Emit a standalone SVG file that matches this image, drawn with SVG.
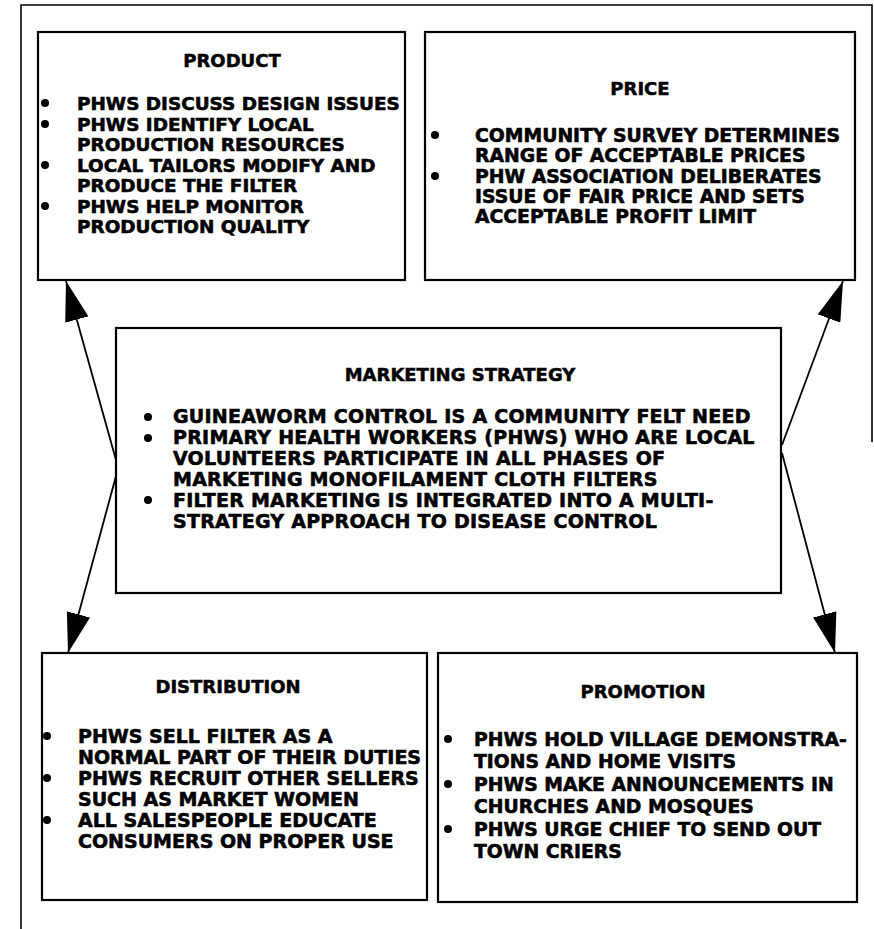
<svg xmlns="http://www.w3.org/2000/svg" width="874" height="929" viewBox="0 0 874 929">
<style>
.box{fill:#fff;stroke:#000;stroke-width:2.2}
.frame{fill:none;stroke:#000;stroke-width:1.6}
.t{font-family:"DejaVu Sans","Liberation Sans",sans-serif;font-weight:bold;font-size:19px;fill:#000;stroke:#000;stroke-width:0.6}
.m{letter-spacing:0.25px}
.h{font-family:"DejaVu Sans","Liberation Sans",sans-serif;font-weight:bold;font-size:18px;fill:#000;stroke:#000;stroke-width:0.5;text-anchor:middle}
.conn{stroke:#000;stroke-width:1.8;fill:none}
</style>
<defs>
<marker id="ah" markerUnits="userSpaceOnUse" markerWidth="42" markerHeight="24" refX="40" refY="12" orient="auto">
<path d="M0,0 L40,12 L0,24 Z" fill="#000"/>
</marker>
<circle id="b" r="4" fill="#000"/>
</defs>
<g id="frame">
<polyline class="frame" points="21,929 21,5 872,5 872,442"/>
</g>
<g id="connectors">
<line class="conn" x1="116" y1="460" x2="66" y2="281" marker-end="url(#ah)"/>
<line class="conn" x1="116" y1="476" x2="68" y2="653" marker-end="url(#ah)"/>
<line class="conn" x1="782" y1="445" x2="843" y2="281" marker-end="url(#ah)"/>
<line class="conn" x1="782" y1="453" x2="835" y2="653" marker-end="url(#ah)"/>
</g>
<g id="product">
<rect class="box" x="38" y="32" width="367" height="248"/>
<text class="h" x="232" y="67">PRODUCT</text>
<use href="#b" x="45" y="103"/>
<use href="#b" x="45" y="124"/>
<use href="#b" x="45" y="165"/>
<use href="#b" x="45" y="206"/>
<text class="t" style="font-size:18.4px" x="77" y="110">PHWS DISCUSS DESIGN ISSUES</text>
<text class="t" style="font-size:18.4px" x="77" y="131">PHWS IDENTIFY LOCAL</text>
<text class="t" style="font-size:18.4px" x="77" y="151">PRODUCTION RESOURCES</text>
<text class="t" style="font-size:18.4px" x="77" y="172">LOCAL TAILORS MODIFY AND</text>
<text class="t" style="font-size:18.4px" x="77" y="192">PRODUCE THE FILTER</text>
<text class="t" style="font-size:18.4px" x="77" y="213">PHWS HELP MONITOR</text>
<text class="t" style="font-size:18.4px" x="77" y="233">PRODUCTION QUALITY</text>
</g>
<g id="price">
<rect class="box" x="425" y="32" width="430" height="248"/>
<text class="h" x="640" y="95">PRICE</text>
<use href="#b" x="435" y="135"/>
<use href="#b" x="435" y="176"/>
<text class="t" style="font-size:18.8px" x="475" y="142">COMMUNITY SURVEY DETERMINES</text>
<text class="t" style="font-size:18.8px" x="475" y="162">RANGE OF ACCEPTABLE PRICES</text>
<text class="t" style="font-size:18.8px" x="475" y="183">PHW ASSOCIATION DELIBERATES</text>
<text class="t" style="font-size:18.8px" x="475" y="203">ISSUE OF FAIR PRICE AND SETS</text>
<text class="t" style="font-size:18.8px" x="475" y="223">ACCEPTABLE PROFIT LIMIT</text>
</g>
<g id="marketing-strategy">
<rect class="box" x="116" y="328" width="665" height="265"/>
<text class="h" x="460" y="381">MARKETING STRATEGY</text>
<use href="#b" x="148" y="417"/>
<use href="#b" x="148" y="438"/>
<use href="#b" x="148" y="500"/>
<text class="t m" x="173" y="423">GUINEAWORM CONTROL IS A COMMUNITY FELT NEED</text>
<text class="t m" x="173" y="444">PRIMARY HEALTH WORKERS (PHWS) WHO ARE LOCAL</text>
<text class="t m" x="173" y="465">VOLUNTEERS PARTICIPATE IN ALL PHASES OF</text>
<text class="t m" x="173" y="486">MARKETING MONOFILAMENT CLOTH FILTERS</text>
<text class="t m" x="173" y="507">FILTER MARKETING IS INTEGRATED INTO A MULTI-</text>
<text class="t m" x="173" y="528">STRATEGY APPROACH TO DISEASE CONTROL</text>
</g>
<g id="distribution">
<rect class="box" x="42" y="653" width="385" height="247"/>
<text class="h" x="228" y="693">DISTRIBUTION</text>
<use href="#b" x="47" y="736"/>
<use href="#b" x="47" y="778"/>
<use href="#b" x="47" y="820"/>
<text class="t" x="78" y="743">PHWS SELL FILTER AS A</text>
<text class="t" x="78" y="764">NORMAL PART OF THEIR DUTIES</text>
<text class="t" x="78" y="785">PHWS RECRUIT OTHER SELLERS</text>
<text class="t" x="78" y="806">SUCH AS MARKET WOMEN</text>
<text class="t" x="78" y="827">ALL SALESPEOPLE EDUCATE</text>
<text class="t" x="78" y="848">CONSUMERS ON PROPER USE</text>
</g>
<g id="promotion">
<rect class="box" x="438" y="653" width="419" height="249"/>
<text class="h" x="643" y="698">PROMOTION</text>
<use href="#b" x="448" y="739"/>
<use href="#b" x="448" y="784"/>
<use href="#b" x="448" y="829"/>
<text class="t" style="font-size:18.8px" x="474" y="746">PHWS HOLD VILLAGE DEMONSTRA-</text>
<text class="t" style="font-size:18.8px" x="474" y="768">TIONS AND HOME VISITS</text>
<text class="t" style="font-size:18.8px" x="474" y="791">PHWS MAKE ANNOUNCEMENTS IN</text>
<text class="t" style="font-size:18.8px" x="474" y="813">CHURCHES AND MOSQUES</text>
<text class="t" style="font-size:18.8px" x="474" y="836">PHWS URGE CHIEF TO SEND OUT</text>
<text class="t" style="font-size:18.8px" x="474" y="858">TOWN CRIERS</text>
</g>
</svg>
